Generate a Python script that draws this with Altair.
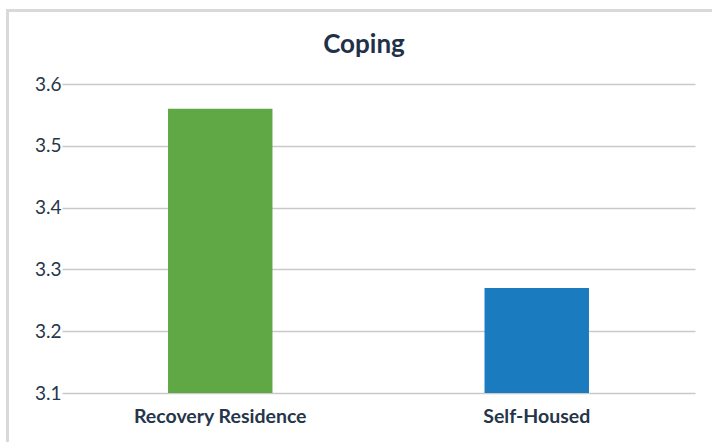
import altair as alt
import pandas as pd

categories = ["Recovery Residence", "Self-Housed"]
values = [3.56, 3.27]
colors = ["#5fa845", "#1a7bbf"]
y_ticks = [3.1, 3.2, 3.3, 3.4, 3.5, 3.6]
title_text = ["Coping"]

df = pd.DataFrame({"group": categories, "value": values, "color": colors})
tdf = pd.DataFrame({"t": title_text})

FONT = "Lato"
TEXT = "#26364a"

bars = alt.Chart(df).mark_bar(width=alt.RelativeBandSize(0.33), clip=True).encode(
    x=alt.X("group:N", sort=categories,
            scale=alt.Scale(range=[-9, 624], paddingInner=0, paddingOuter=0),
            axis=alt.Axis(title=None, labelAngle=0, ticks=False, domain=False,
                          labelFontSize=19.5, labelFont=FONT, labelFontWeight="bold",
                          labelColor=TEXT, labelPadding=14, grid=False)),
    y=alt.Y("value:Q",
            scale=alt.Scale(domain=[3.1, 3.6], zero=False, nice=False),
            axis=alt.Axis(title=None, values=y_ticks, format=".1f", ticks=False,
                          domain=False, labelFontSize=19, labelFont=FONT,
                          labelColor=TEXT, labelPadding=10,
                          grid=True, gridColor="#c9c9c9", gridWidth=1.5)),
    y2=alt.datum(3.1),
    color=alt.Color("color:N", scale=None, legend=None),
)

frame_left = alt.Chart(df).mark_rule(color="#d9d9d9", strokeWidth=3, clip=False).encode(
    x=alt.value(-63.5), y=alt.value(-75), y2=alt.value(400)
)
frame_top = alt.Chart(df).mark_rule(color="#d9d9d9", strokeWidth=3, clip=False).encode(
    x=alt.value(-65), x2=alt.value(700), y=alt.value(-73.5)
)
title = alt.Chart(tdf).mark_text(
    font=FONT, fontSize=26, fontWeight="bold", color="#1f3049",
    align="center", baseline="alphabetic", clip=False
).encode(x=alt.value(293), y=alt.value(-31), text="t:N")

chart = alt.layer(frame_left, frame_top, bars, title).properties(
    width=623,
    height=309,
    autosize=alt.AutoSizeParams(type="none"),
    padding={"left": 71, "top": 84, "right": 18, "bottom": 49},
).configure(background="white").configure_view(stroke=None)

chart.save("out.html", embed_options={"renderer": "svg", "actions": False})
